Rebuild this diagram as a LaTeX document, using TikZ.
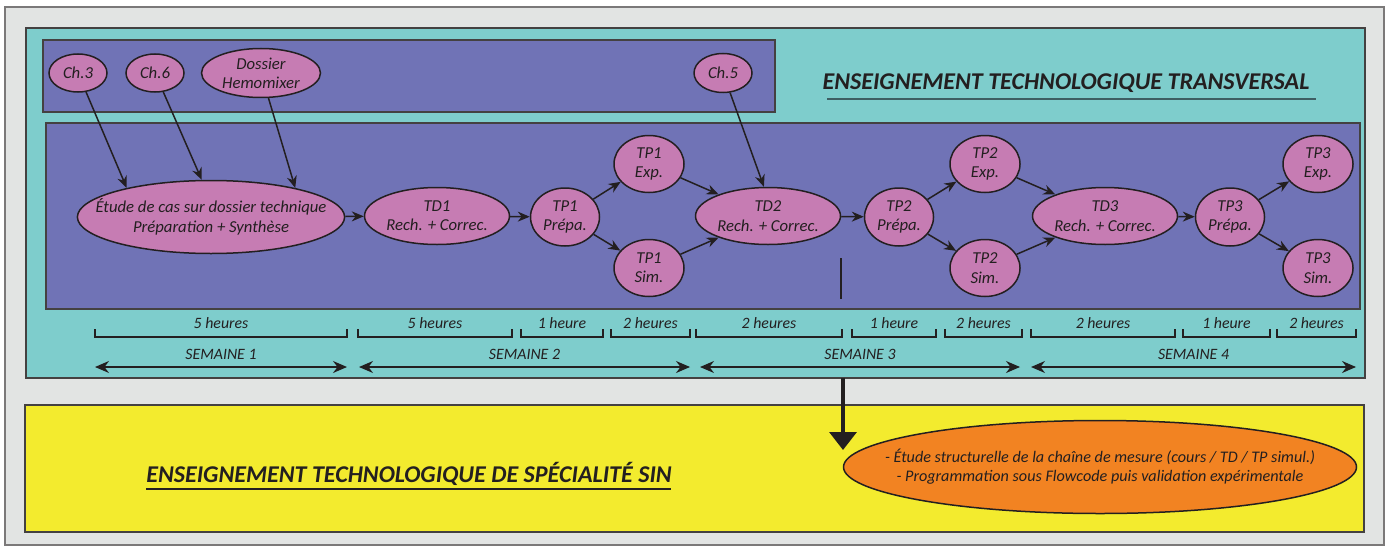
\documentclass[tikz,border=0pt]{standalone}
\usepackage{fontspec}
\setmainfont{Carlito}
\usetikzlibrary{arrows.meta,shapes.geometric}

\definecolor{fondgris}{HTML}{E2E4E3}
\definecolor{turquoise}{HTML}{7ECDCC}
\definecolor{violet}{HTML}{7073B6}
\definecolor{rose}{HTML}{C67CB3}
\definecolor{jaune}{HTML}{F3EB2E}
\definecolor{orangevif}{HTML}{F28322}
\definecolor{encre}{HTML}{231F20}
\definecolor{soulign}{HTML}{3E5E63}

\tikzset{
  cadre/.style={draw=encre!85, line width=0.03cm},
  seance/.style={ellipse, draw=encre, line width=0.03cm, fill=rose, inner sep=0pt,
    align=center, text=encre, font=\fontsize{9.5}{11}\selectfont\itshape},
  fleche/.style={draw=encre, line width=0.03cm, -{Stealth[length=0.24cm,width=0.2cm]}},
  accolade/.style={draw=encre, line width=0.025cm},
  semaine/.style={draw=encre, line width=0.03cm,
    {Stealth[length=0.28cm,width=0.24cm]}-{Stealth[length=0.28cm,width=0.24cm]}},
  duree/.style={text=encre, font=\small\itshape, inner sep=0pt},
  titre/.style={text=encre, font=\fontsize{13.7}{16}\selectfont\bfseries\itshape, inner sep=0pt}
}

\begin{document}
\begin{tikzpicture}
    \useasboundingbox (0,0) rectangle (27.78,10.96);

    % Drawing background frames
    \draw [cadre, draw=encre!60, fill=fondgris] (0.10,0.06) rectangle (27.68,10.82);%
    \draw [cadre, fill=turquoise] (0.52,3.40) rectangle (27.30,10.40);%
    \draw [cadre, fill=violet] (0.86,8.72) rectangle (15.50,10.16);%
    \draw [cadre, fill=violet] (0.92,4.78) rectangle (27.20,8.50);%
    \draw [cadre, fill=jaune] (0.50,0.32) rectangle (27.28,2.86);%

    % Marking chapters and dossier
    \node [seance, minimum width=1.16cm, minimum height=0.76cm] (ch3) at (1.56,9.50) {Ch.3};%
    \node [seance, minimum width=1.16cm, minimum height=0.76cm] (ch6) at (3.10,9.50) {Ch.6};%
    \node [seance, inner ysep=-0.06cm, minimum width=2.38cm, minimum height=0.98cm] (dossier) at (5.22,9.50) {Dossier\\Hemomixer};%
    \node [seance, minimum width=1.16cm, minimum height=0.78cm] (ch5) at (14.46,9.50) {Ch.5};%

    % Marking sessions of week 1 and 2
    \node [seance, inner xsep=-0.42cm, minimum width=5.30cm, minimum height=1.46cm] (etude) at (4.22,6.62) {\'Etude de cas sur dossier technique\\Pr\'eparation + Synth\`ese};%
    \node [seance, minimum width=2.90cm, minimum height=1.14cm] (td1) at (8.74,6.64) {TD1\\Rech. + Correc.};%
    \node [seance, minimum width=1.38cm, minimum height=1.16cm] (tp1prep) at (11.30,6.62) {TP1\\Pr\'epa.};%
    \node [seance, minimum width=1.40cm, minimum height=1.14cm] (tp1exp) at (12.98,7.68) {TP1\\Exp.};%
    \node [seance, minimum width=1.40cm, minimum height=1.14cm] (tp1sim) at (12.98,5.60) {TP1\\Sim.};%

    % Marking sessions of week 3
    \node [seance, minimum width=2.90cm, minimum height=1.14cm] (td2) at (15.36,6.64) {TD2\\Rech. + Correc.};%
    \node [seance, minimum width=1.38cm, minimum height=1.16cm] (tp2prep) at (17.98,6.62) {TP2\\Pr\'epa.};%
    \node [seance, minimum width=1.40cm, minimum height=1.14cm] (tp2exp) at (19.70,7.68) {TP2\\Exp.};%
    \node [seance, minimum width=1.40cm, minimum height=1.14cm] (tp2sim) at (19.70,5.60) {TP2\\Sim.};%

    % Marking sessions of week 4
    \node [seance, minimum width=2.90cm, minimum height=1.14cm] (td3) at (22.10,6.64) {TD3\\Rech. + Correc.};%
    \node [seance, minimum width=1.38cm, minimum height=1.16cm] (tp3prep) at (24.60,6.62) {TP3\\Pr\'epa.};%
    \node [seance, minimum width=1.40cm, minimum height=1.14cm] (tp3exp) at (26.36,7.68) {TP3\\Exp.};%
    \node [seance, minimum width=1.40cm, minimum height=1.14cm] (tp3sim) at (26.36,5.60) {TP3\\Sim.};%

    % Drawing arrows from chapters
    \draw [fleche] (ch3) -- (etude.161);%
    \draw [fleche] (ch6) -- (etude.104);%
    \draw [fleche] (dossier) -- (etude.19);%
    \draw [fleche] (ch5) -- (td2.98);%

    % Drawing arrows between sessions
    \draw [fleche] (etude) -- (td1);%
    \draw [fleche] (td1) -- (tp1prep);%
    \draw [fleche] (tp1prep) -- (tp1exp);%
    \draw [fleche] (tp1prep) -- (tp1sim);%
    \draw [fleche] (tp1exp) -- (td2);%
    \draw [fleche] (tp1sim) -- (td2);%
    \draw [fleche] (td2) -- (tp2prep);%
    \draw [fleche] (tp2prep) -- (tp2exp);%
    \draw [fleche] (tp2prep) -- (tp2sim);%
    \draw [fleche] (tp2exp) -- (td3);%
    \draw [fleche] (tp2sim) -- (td3);%
    \draw [fleche] (td3) -- (tp3prep);%
    \draw [fleche] (tp3prep) -- (tp3exp);%
    \draw [fleche] (tp3prep) -- (tp3sim);%

    % Drawing mark below TD2
    \draw [draw=encre, line width=0.05cm] (16.82,5.80) -- (16.82,4.98);%

    % Marking title ETT
    \node [titre] (ett) at (21.32,9.30) {ENSEIGNEMENT TECHNOLOGIQUE TRANSVERSAL};%
    \draw [draw=soulign, line width=0.04cm] (16.54,8.98) -- (26.32,8.98);%

    % Drawing durations
    \draw [accolade] (1.90,4.38) -- (1.90,4.22) -- (6.94,4.22) -- (6.94,4.38);%
    \node [duree] (d1) at (4.42,4.50) {5 heures};%
    \draw [accolade] (7.16,4.38) -- (7.16,4.22) -- (10.24,4.22) -- (10.24,4.38);%
    \node [duree] (d2) at (8.70,4.50) {5 heures};%
    \draw [accolade] (10.42,4.38) -- (10.42,4.22) -- (12.06,4.22) -- (12.06,4.38);%
    \node [duree] (d3) at (11.24,4.50) {1 heure};%
    \draw [accolade] (12.22,4.38) -- (12.22,4.22) -- (13.80,4.22) -- (13.80,4.38);%
    \node [duree] (d4) at (13.01,4.50) {2 heures};%
    \draw [accolade] (13.92,4.38) -- (13.92,4.22) -- (16.84,4.22) -- (16.84,4.38);%
    \node [duree] (d5) at (15.38,4.50) {2 heures};%
    \draw [accolade] (17.04,4.38) -- (17.04,4.22) -- (18.72,4.22) -- (18.72,4.38);%
    \node [duree] (d6) at (17.88,4.50) {1 heure};%
    \draw [accolade] (18.90,4.38) -- (18.90,4.22) -- (20.44,4.22) -- (20.44,4.38);%
    \node [duree] (d7) at (19.67,4.50) {2 heures};%
    \draw [accolade] (20.62,4.38) -- (20.62,4.22) -- (23.50,4.22) -- (23.50,4.38);%
    \node [duree] (d8) at (22.06,4.50) {2 heures};%
    \draw [accolade] (23.66,4.38) -- (23.66,4.22) -- (25.40,4.22) -- (25.40,4.38);%
    \node [duree] (d9) at (24.53,4.50) {1 heure};%
    \draw [accolade] (25.54,4.38) -- (25.54,4.22) -- (27.12,4.22) -- (27.12,4.38);%
    \node [duree] (d10) at (26.33,4.50) {2 heures};%

    % Drawing weeks
    \draw [semaine] (1.90,3.62) -- (6.94,3.62);%
    \node [duree] (s1) at (4.42,3.88) {SEMAINE 1};%
    \draw [semaine] (7.18,3.62) -- (13.80,3.62);%
    \node [duree] (s2) at (10.49,3.88) {SEMAINE 2};%
    \draw [semaine] (14.00,3.62) -- (20.40,3.62);%
    \node [duree] (s3) at (17.20,3.88) {SEMAINE 3};%
    \draw [semaine] (20.62,3.62) -- (27.12,3.62);%
    \node [duree] (s4) at (23.87,3.88) {SEMAINE 4};%

    % Marking title ETS SIN
    \node [titre] (ets) at (8.18,1.48) {ENSEIGNEMENT TECHNOLOGIQUE DE SP\'ECIALIT\'E SIN};%
    \draw [draw=encre, line width=0.03cm] (2.92,1.18) -- (13.42,1.18);%

    % Marking SIN content
    \node [seance, fill=orangevif, font=\fontsize{9.2}{10.8}\selectfont\itshape, inner xsep=-0.72cm,
      minimum width=10.26cm, minimum height=1.86cm] (sin) at (22.00,1.62)
      {- \'Etude structurelle de la cha\^ine de mesure (cours / TD / TP simul.)\\- Programmation sous Flowcode puis validation exp\'erimentale};%

    % Drawing arrow from ETT to SIN
    \coordinate (depart) at (16.86,3.40);
    \coordinate (arrivee) at (16.86,1.96);
    \draw [draw=encre, line width=0.07cm, -{Triangle[length=0.36cm,width=0.54cm]}] (depart) -- (arrivee);%
\end{tikzpicture}
\end{document}
